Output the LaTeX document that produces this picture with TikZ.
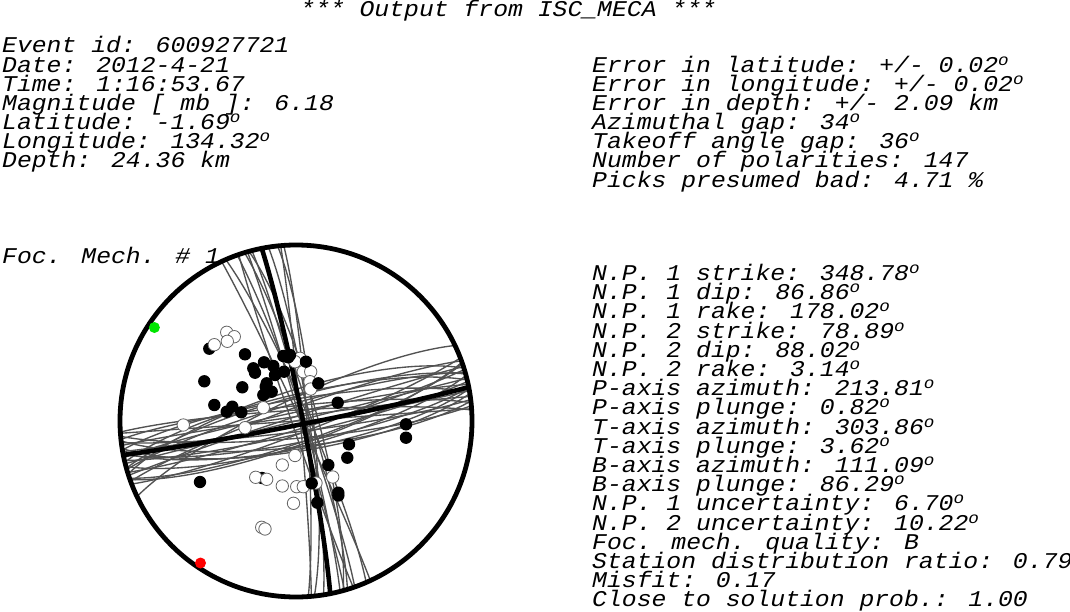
\documentclass[tikz,border=0pt]{standalone}
\usepackage{fontspec}
\newfontfamily\cour[FakeStretch=1.1]{Liberation Mono}
\newcommand\dg{\raisebox{7bp}{\fontsize{16bp}{16bp}\selectfont o}}
\begin{document}
\begin{tikzpicture}[x=1bp,y=-1bp,
  txt/.style={anchor=base west, inner sep=0pt, font={\cour\itshape\fontsize{22.5bp}{22.5bp}\selectfont}},
  gl/.style={draw=black!68, line width=1.35bp},
  np/.style={draw=black, line width=4.6bp},
  compdot/.style={fill=black},
  dildot/.style={fill=white, draw=black!60, line width=0.8bp}]
\useasboundingbox (0,0) rectangle (1070,612);
\fill[white] (0,0) rectangle (1070,612);
% title
\node[txt] (title) at (300,17) {*** Output from ISC\_MECA ***};
% left column
\node[txt] (ev)  at (2,53.0)  {Event id: 600927721};
\node[txt] (dt)  at (2,72.2)  {Date: 2012-4-21};
\node[txt] (tm)  at (2,91.3)  {Time: 1:16:53.67};
\node[txt] (mg)  at (2,110.5) {Magnitude [ mb ]: 6.18};
\node[txt] (lat) at (2,129.6) {Latitude: -1.69\dg};
\node[txt] (lon) at (2,148.8) {Longitude: 134.32\dg};
\node[txt] (dep) at (2,167.9) {Depth: 24.36 km};
% right top column
\node[txt] (e1) at (592,72.2)  {Error in latitude: +/- 0.02\dg};
\node[txt] (e2) at (592,91.3)  {Error in longitude: +/- 0.02\dg};
\node[txt] (e3) at (592,110.5) {Error in depth: +/- 2.09 km};
\node[txt] (e4) at (592,129.6) {Azimuthal gap: 34\dg};
\node[txt] (e5) at (592,148.8) {Takeoff angle gap: 36\dg};
\node[txt] (e6) at (592,167.9) {Number of polarities: 147};
\node[txt] (e7) at (592,187.1) {Picks presumed bad: 4.71 \%};
% focal mechanism label
\node[txt] (fm) at (2,264) {Foc. Mech. \# 1};
% right bottom column
\node[txt] (r1)  at (592,280.5) {N.P. 1 strike: 348.78\dg};
\node[txt] (r2)  at (592,299.7) {N.P. 1 dip: 86.86\dg};
\node[txt] (r3)  at (592,318.9) {N.P. 1 rake: 178.02\dg};
\node[txt] (r4)  at (592,338.1) {N.P. 2 strike: 78.89\dg};
\node[txt] (r5)  at (592,357.3) {N.P. 2 dip: 88.02\dg};
\node[txt] (r6)  at (592,376.5) {N.P. 2 rake: 3.14\dg};
\node[txt] (r7)  at (592,395.7) {P-axis azimuth: 213.81\dg};
\node[txt] (r8)  at (592,414.9) {P-axis plunge: 0.82\dg};
\node[txt] (r9)  at (592,434.1) {T-axis azimuth: 303.86\dg};
\node[txt] (r10) at (592,453.3) {T-axis plunge: 3.62\dg};
\node[txt] (r11) at (592,472.5) {B-axis azimuth: 111.09\dg};
\node[txt] (r12) at (592,491.7) {B-axis plunge: 86.29\dg};
\node[txt] (r13) at (592,510.9) {N.P. 1 uncertainty: 6.70\dg};
\node[txt] (r14) at (592,530.1) {N.P. 2 uncertainty: 10.22\dg};
\node[txt] (r15) at (592,549.3) {Foc. mech. quality: B};
\node[txt] (r16) at (592,568.5) {Station distribution ratio: 0.79};
\node[txt] (r17) at (592,587.7) {Misfit: 0.17};
\node[txt] (r18) at (592,606.9) {Close to solution prob.: 1.00};
% beach ball
\def\cx{296}\def\cy{421}\def\R{176}
\coordinate (ctr) at (\cx,\cy);
% family of alternative planes
\foreach \s/\d in {335/88,336.5/84,340.5/86,341/92,343/83,344/88,344.5/80,345.5/86,351/84,354/82,355/88,356/85,
  64.6/100,69/84,70/96,71/80,72/92,73/86,74/98,75/78,76/90,76.5/102,77/84,78/94,79/80,80/88,80.5/100,81/76,82/92,83/85,84/97,85/82,86/90,86.4/95,72.5/104,79.5/77,70.5/79,74.5/101,83.5/78}{
  \draw[gl] plot[domain=0:180,samples=61,variable=\t]
   ({\cx+\R*(cos(\t)*sin(\s)+sin(\t)*cos(\s)*cos(\d))/sqrt(1+sin(\t)*sin(\d))},
    {\cy-\R*(cos(\t)*cos(\s)-sin(\t)*sin(\s)*cos(\d))/sqrt(1+sin(\t)*sin(\d))});
}
% best nodal planes
\foreach \s/\d in {348.78/86.86,78.89/88.02}{
  \draw[np] plot[domain=0:180,samples=61,variable=\t]
   ({\cx+\R*(cos(\t)*sin(\s)+sin(\t)*cos(\s)*cos(\d))/sqrt(1+sin(\t)*sin(\d))},
    {\cy-\R*(cos(\t)*cos(\s)-sin(\t)*sin(\s)*cos(\d))/sqrt(1+sin(\t)*sin(\d))});
}
% background compressions partly hidden
\foreach \x/\y in {209.3/348.7,262/478}{\fill[compdot] (\x,\y) circle[radius=6.2bp];}
% dilatations
\foreach \x/\y in {214.3/344.7,226.7/332.3,234.3/336.7,227.3/341.3,263.3/407.7,
  300/358.3,295/361.7,303.3/371.7,310.7/371.7,310/381.7,310.7/389,
  183.3/425,245/427.7,255.7/477.3,266.7/479.3,282.3/465,295/455.5,
  282.3/486,296.7/486.7,303.3/486.7,316/483,293.5/503.3,332.7/477,261.7/527.3,265/529}
  {\filldraw[dildot] (\x,\y) circle[radius=6.2bp];}
% compressions
\foreach \x/\y in {245/354.3,204.3/381.3,242.3/387.3,214.3/405,226.7/411.7,232.3/406.7,241.3/412.3,
  253.3/368.3,255/372.7,264/362.3,273.3/366,275/375,266.7/383.3,263.3/395,271.7/391.7,265.7/386.7,
  283.3/356,288.3/357.3,284/371.7,290/355,306/361.7,318.3/383.3,337.7/402.7,
  200/482,349/444.3,347.3/457.7,406/424.3,406/437.7,328.3/465,338.3/492.7,338.3/495.5,311.7/483.3,317.3/502.7}
  {\fill[compdot] (\x,\y) circle[radius=6.2bp];}
% outline
\draw[line width=4.8bp] (ctr) circle[radius=176bp];
% P and T axes markers on the rim
\fill[green!90!black] (154.4,327.5) circle[radius=5.5bp];
\fill[red] (200.5,563) circle[radius=5.5bp];
\end{tikzpicture}
\end{document}
